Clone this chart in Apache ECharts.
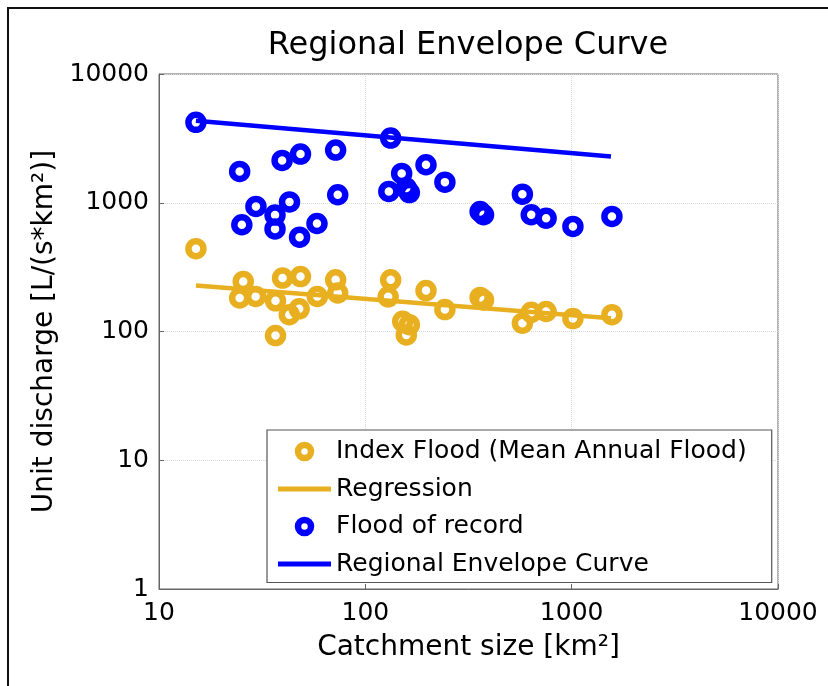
<!DOCTYPE html>
<html>
<head>
<meta charset="utf-8">
<script src="https://cdn.jsdelivr.net/npm/echarts@6/dist/echarts.min.js"></script>
<style>
html,body{margin:0;padding:0;background:#fff;}
#chart{width:828px;height:686px;}
</style>
</head>
<body>
<div id="chart"></div>
<script>
// Index flood (mean annual flood)
const indexFloodArea  = [15.1, 24.6, 25.6, 29.4, 36.7, 36.7, 39.7, 42.8, 47.8, 48.5, 58.5, 71.8, 73.5, 129, 132.7, 151.7, 158, 163.4, 196.8, 243, 360, 374, 577, 637, 752, 1014, 1567];
const indexFloodValue = [440, 182, 245, 187, 173, 93, 260, 135, 150, 267, 187, 252, 199, 186, 252, 120, 94, 113, 208, 148, 184, 176, 116, 141, 143, 126, 135];
// Flood of record
const recordArea  = [15.1, 24.6, 25.2, 29.5, 36.5, 36.5, 39.5, 42.9, 48, 48.5, 58.3, 71.8, 73.5, 130, 132.7, 150, 158, 163.4, 196.8, 243, 360, 374, 577, 637, 752, 1014, 1567];
const recordValue = [4210, 1750, 675, 937, 802, 626, 2133, 1015, 540, 2387, 690, 2565, 1154, 1224, 3177, 1690, 1300, 1200, 1973, 1446, 855, 807, 1166, 807, 759, 655, 783];
// Regression line
const regressionArea  = [15.1, 1550];
const regressionValue = [228, 127];
// Regional envelope curve
const envelopeArea  = [15.1, 1550];
const envelopeValue = [4330, 2290];

const seriesNames = ['Index Flood (Mean Annual Flood)', 'Regression', 'Flood of record', 'Regional Envelope Curve'];
const xTickLabels = ['10', '100', '1000', '10000'];
const yTickLabels = ['1', '10', '100', '1000', '10000'];

const ORANGE = '#E8B020';
const BLUE = '#0000FF';
const FONT = 'DejaVu Sans';
const LINE_ICON = 'path://M0,0h53v5h-53z';

function pairs(xs, ys) { return xs.map((x, i) => [x, ys[i]]); }
function fmt(v) { return String(Math.round(v)); }

const chart = echarts.init(document.getElementById('chart'), null, {renderer: 'canvas'});
chart.setOption({
  animation: false,
  backgroundColor: '#fff',
  textStyle: {fontFamily: FONT},
  title: {
    text: 'Regional Envelope Curve',
    left: 468, textAlign: 'center', top: 30, padding: 0,
    textStyle: {fontFamily: FONT, fontSize: 32, fontWeight: 'normal', color: '#000'}
  },
  graphic: [{
    type: 'rect', shape: {x: 8, y: 8, width: 900, height: 900},
    style: {fill: null, stroke: '#111', lineWidth: 2}, silent: true
  }],
  grid: {left: 159, right: 50, top: 74, bottom: 97, show: true, borderColor: '#666', borderWidth: 1, backgroundColor: 'transparent'},
  legend: {
    orient: 'vertical', left: 267, top: 430,
    padding: [9, 25, 6, 11], itemGap: 12.5,
    itemWidth: 53, itemHeight: 13,
    backgroundColor: '#fff', borderColor: '#555', borderWidth: 1.2,
    textStyle: {fontFamily: FONT, fontSize: 25, color: '#000'},
    data: [
      {name: seriesNames[0], itemStyle: {borderWidth: 6.5, borderColor: ORANGE, color: 'rgba(0,0,0,0)'}},
      {name: seriesNames[1], icon: LINE_ICON, itemStyle: {color: ORANGE, borderWidth: 0}},
      {name: seriesNames[2], itemStyle: {borderWidth: 6.5, borderColor: BLUE, color: 'rgba(0,0,0,0)'}},
      {name: seriesNames[3], icon: LINE_ICON, itemStyle: {color: BLUE, borderWidth: 0}}
    ]
  },
  xAxis: {
    type: 'log', logBase: 10, min: 10, max: 10000,
    name: 'Catchment size [km²]', nameLocation: 'middle', nameGap: 45,
    nameTextStyle: {fontFamily: FONT, fontSize: 28, color: '#000'},
    axisLine: {show: true, lineStyle: {color: '#666', width: 1}},
    axisTick: {show: true, inside: true, length: 5, lineStyle: {color: '#666'}},
    minorTick: {show: false},
    axisLabel: {fontFamily: FONT, fontSize: 25, color: '#000', margin: 12,
      formatter: v => { const s = fmt(v); return xTickLabels.includes(s) ? s : ''; }},
    splitLine: {show: true, lineStyle: {color: '#d8d8d8', type: 'dotted', width: 1}}
  },
  yAxis: {
    type: 'log', logBase: 10, min: 1, max: 10000,
    name: 'Unit discharge [L/(s*km²)]', nameLocation: 'middle', nameGap: 96,
    nameTextStyle: {fontFamily: FONT, fontSize: 28, color: '#000'},
    axisLine: {show: true, lineStyle: {color: '#666', width: 1}},
    axisTick: {show: true, inside: true, length: 5, lineStyle: {color: '#666'}},
    axisLabel: {fontFamily: FONT, fontSize: 25, color: '#000', margin: 10,
      formatter: v => { const s = fmt(v); return yTickLabels.includes(s) ? s : ''; }},
    splitLine: {show: true, lineStyle: {color: '#d8d8d8', type: 'dotted', width: 1}}
  },
  series: [
    {
      name: seriesNames[0], type: 'scatter', symbol: 'circle', symbolSize: 15,
      data: pairs(indexFloodArea, indexFloodValue),
      itemStyle: {color: 'rgba(0,0,0,0)', borderColor: ORANGE, borderWidth: 6.5, opacity: 1}
    },
    {
      name: seriesNames[1], type: 'line', symbol: 'none', showSymbol: false,
      data: pairs(regressionArea, regressionValue),
      lineStyle: {color: ORANGE, width: 4.5}, itemStyle: {color: ORANGE}
    },
    {
      name: seriesNames[2], type: 'scatter', symbol: 'circle', symbolSize: 15,
      data: pairs(recordArea, recordValue),
      itemStyle: {color: 'rgba(0,0,0,0)', borderColor: BLUE, borderWidth: 6.5, opacity: 1}
    },
    {
      name: seriesNames[3], type: 'line', symbol: 'none', showSymbol: false,
      data: pairs(envelopeArea, envelopeValue),
      lineStyle: {color: BLUE, width: 4.5}, itemStyle: {color: BLUE}
    }
  ]
});
</script>
</body>
</html>
